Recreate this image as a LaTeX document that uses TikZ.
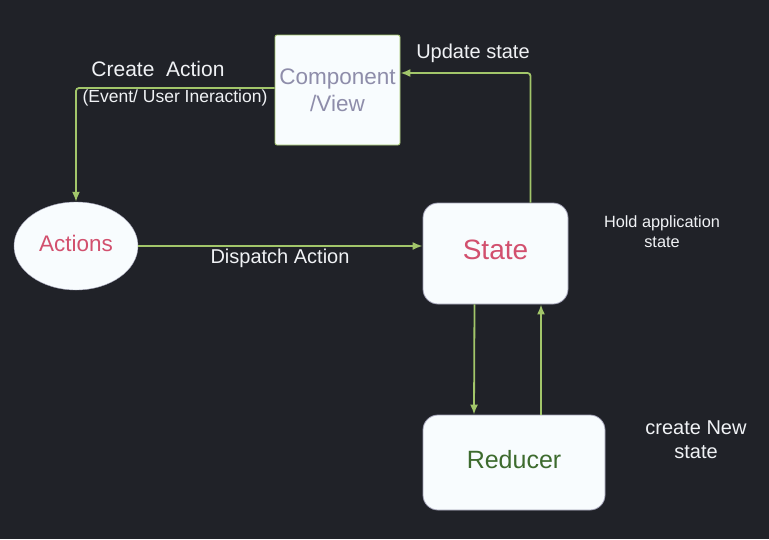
\documentclass[tikz,border=0pt]{standalone}
\usepackage{fontspec}
\setmainfont{Liberation Sans}
\usepackage{tikz}
\usetikzlibrary{positioning}
\usetikzlibrary{shapes.geometric}
\usetikzlibrary{arrows.meta}

\definecolor{bgdark}{HTML}{202228}
\definecolor{flowgreen}{HTML}{A2C66A}
\definecolor{boxfill}{HTML}{F8FCFE}
\definecolor{boxline}{HTML}{A0A0B4}
\definecolor{pinktext}{HTML}{D2506E}
\definecolor{greentext}{HTML}{3D6B2E}
\definecolor{greytext}{HTML}{8E8DAA}
\definecolor{notetext}{HTML}{F0F2F5}

\newcommand{\fs}[2]{\fontsize{#1}{#2}\selectfont}

\begin{document}
\begin{tikzpicture}
    [
    x=1pt,y=-1pt,
    block/.style={draw=boxline,fill=boxfill,line width=0.8pt,rounded corners=15pt,align=center},
    flow/.style={draw=flowgreen,line width=1.8pt,-{Latex[length=10pt,width=8pt]}},
    note/.style={text=notetext,align=center,inner sep=0pt},
    ]
    \fill [bgdark] (0,0) rectangle (769,539);
    \useasboundingbox (0,0) rectangle (769,539);

    \node (comp) at (337.5,90) [block,draw=flowgreen,rounded corners=2pt,minimum width=125pt,minimum height=110pt,text=greytext,font=\fs{22.5}{27}] {Component\\/View};
    \node (act) at (76,246) [ellipse,draw=boxline,fill=boxfill,minimum width=124pt,minimum height=88pt,text=pinktext,text depth=6pt,font=\fs{22.5}{27}] {Actions};
    \node (state) at (495.5,253.5) [block,minimum width=145pt,minimum height=101pt,text=pinktext,text depth=8pt,font=\fs{28}{32}] {State};
    \node (red) at (514,462.5) [block,minimum width=182pt,minimum height=95pt,text=greentext,text depth=6pt,font=\fs{25}{30}] {Reducer};

    \draw [flow,rounded corners=3pt] ([yshift=2pt]comp.west) -| (act.north);
    \draw [flow,rounded corners=3pt] ([xshift=35pt]state.north) |- ([yshift=17pt]comp.east);
    \draw [flow] (act.east) -- (act.east -| state.west);
    \draw [flow] ([xshift=-21pt]state.south) -- ([xshift=-40pt]red.north);
    \draw [flow] ([xshift=27pt]red.north) -- ([xshift=45.5pt]state.south);

    \node (create) at (158,69) [note,font=\fs{21}{25}] {Create\ \ Action};
    \node (event) at (175,98) [note,font=\fs{17.5}{21}] {(Event/ User Ineraction)};
    \node (update) at (473,53) [note,font=\fs{20}{24}] {Update state};
    \node (dispatch) at (280,258) [note,font=\fs{20}{24}] {Dispatch Action};
    \node (hold) at (662,232) [note,font=\fs{16.3}{20}] {Hold application\\state};
    \node (newstate) at (696,440) [note,font=\fs{20}{24}] {create New\\state};
  \end{tikzpicture}
\end{document}
